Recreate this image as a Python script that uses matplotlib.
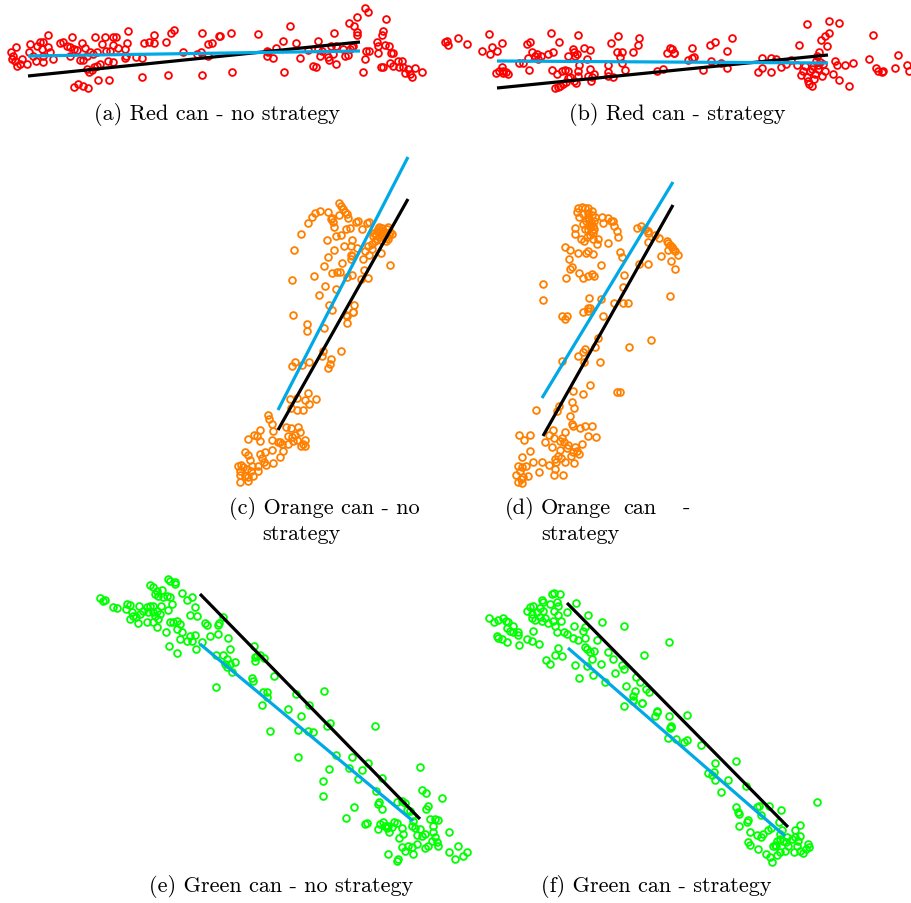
import numpy as np
import matplotlib
matplotlib.use("Agg")
import matplotlib.pyplot as plt

W, H = 912, 904

# ---- tracked positions (x, y), screen coordinates, y grows downward ----
red_nostrat = [
    (11,53),(13,57),(12,60),(15,62),(17,67),(20,65),(16,48),(22,60),(27,65),(30,45),(29,53),(33,57),
    (36,62),(37,47),(40,43),(43,43),(43,63),(42,50),(48,36),(48,48),(50,53),(53,60),(43,57),(60,44),
    (63,43),(67,47),(70,57),(72,38),(70,48),(74,50),(77,51),(82,44),(85,49),(80,61),(83,61),(87,57),
    (90,53),(93,55),(97,53),(95,38),(102,45),(105,38),(106,52),(110,52),(113,38),(116,38),(113,46),
    (118,49),(125,50),(128,32),(127,44),(126,57),(125,59),(87,70),(89,73),(92,71),(94,68),(97,67),
    (100,65),(108,62),(113,63),(74,88),(78,85),(83,87),(88,89),(98,81),(109,81),(136,58),(142,59),
    (142,78),(144,44),(149,43),(154,36),(154,44),(166,43),(171,34),(174,31),(168,76),(183,53),(197,55),
    (201,53),(202,34),(202,76),(208,57),(208,45),(212,44),(219,37),(220,37),(231,34),(258,35),(232,73),
    (267,52),(268,53),(267,57),(273,59),(276,49),(283,42),(284,73),(290,27),(296,44),(300,59),(308,51),
    (313,67),(316,68),(318,42),(318,50),(320,57),(322,52),(328,58),(329,61),(331,47),(333,55),(336,47),
    (334,34),(336,65),(343,50),(345,57),(348,56),(350,50),(352,48),(353,47),(349,24),(354,27),(357,18),
    (357,33),(357,36),(365,9),(368,13),(363,73),(365,60),(366,52),(369,52),(377,43),(378,47),(378,54),
    (382,36),(383,32),(386,20),(385,46),(389,47),(391,54),(393,54),(390,64),(393,67),(398,62),(399,68),
    (402,62),(403,68),(405,74),(408,70),(410,75),(412,78),(415,69),(422,73),(381,68),(383,68),
]
red_strat = [
    (445,43),(448,46),(447,42),(458,39),(467,45),(489,35),(482,52),(490,55),(492,48),(497,52),(502,44),
    (496,74),(499,72),(502,68),(503,72),(506,73),(508,75),(503,74),(519,64),(523,64),(527,45),(530,43),
    (528,59),(529,71),(532,53),(535,57),(537,55),(538,60),(541,57),(548,55),(551,34),(552,71),(553,53),
    (559,43),(555,89),(558,88),(560,87),(563,85),(566,83),(568,79),(570,78),(557,75),(562,72),(565,71),
    (568,72),(568,57),(573,50),(574,53),(575,57),(577,55),(578,36),(579,66),(578,72),(578,77),(574,82),
    (576,84),(584,49),(590,51),(587,60),(590,70),(588,77),(591,82),(594,75),(592,78),(608,66),(608,73),
    (608,77),(613,78),(611,44),(618,37),(617,53),(622,53),(620,58),(622,64),(625,71),(633,53),(638,46),
    (639,39),(657,72),(663,70),(667,54),(670,49),(674,54),(672,50),(674,54),(688,61),(692,59),(694,58),
    (692,49),(703,71),(710,46),(715,43),(711,62),(721,64),(727,52),(727,69),(732,39),(758,73),(762,69),
    (762,59),(771,73),(771,59),(776,60),(781,68),(786,65),(791,61),(797,66),(799,46),(801,76),(803,72),
    (805,67),(807,78),(808,82),(809,85),(812,87),(810,72),(813,67),(815,75),(817,57),(818,70),(819,53),
    (820,63),(821,41),(822,77),(823,65),(825,72),(825,37),(827,47),(829,34),(829,22),(807,25),(839,24),
    (833,75),(835,62),(837,66),(839,81),(845,66),(849,87),(853,64),(869,60),(873,36),(876,69),(878,72),
    (882,73),(883,72),(895,69),(898,56),(907,66),(909,72),(812,70),(816,62),(814,80),(818,66),
]
orange_nostrat = [
    (339,204),(341,207),(343,210),(345,213),(347,215),(348,219),(315,214),(320,212),(312,218),(308,224),
    (328,213),(331,220),(333,223),(332,219),(334,228),(339,216),(356,223),(358,222),(362,230),(367,224),
    (369,223),(346,230),(350,229),(336,237),(341,236),(301,235),(327,241),(352,241),(344,247),(351,247),
    (357,249),(334,251),(294,251),(328,258),(324,267),(342,264),(351,256),(351,260),(352,257),(363,260),
    (365,252),(369,256),(372,250),(377,232),(378,230),(380,233),(382,237),(383,232),(387,230),(388,228),
    (390,233),(388,240),(392,235),(373,237),(375,242),(368,247),(372,245),(381,254),(390,266),(332,274),
    (337,273),(340,273),(347,278),(352,276),(364,271),(361,280),(368,279),(314,277),(292,281),(325,287),
    (336,290),(319,296),(329,306),(332,311),(293,316),(354,306),(353,313),(346,316),(376,236),(379,238),
    (381,241),(384,236),(386,234),(379,228),(385,239),(377,240),(374,234),(382,229),(389,236),(386,242),
    (307,325),(307,332),(324,329),(347,317),(353,313),(347,324),(323,352),(322,357),(341,352),(331,360),
    (330,365),(328,369),(295,363),(292,367),(302,366),(309,363),(290,400),(297,399),(305,401),(308,394),
    (309,405),(316,400),(291,409),(297,411),(303,411),(268,416),(269,420),(272,425),(273,432),(260,431),
    (254,436),(257,437),(248,440),(260,442),(272,441),(286,428),(291,429),(298,428),(288,437),(292,438),
    (295,436),(300,433),(278,443),(282,445),(280,443),(288,445),(293,442),(297,441),(305,441),(303,445),
    (305,447),(301,447),(283,452),(272,451),(280,458),(260,455),(265,453),(262,459),(264,463),(266,466),
    (258,467),(273,464),(245,453),(248,456),(250,461),(238,467),(241,466),(243,468),(247,470),(252,467),
    (240,472),(251,472),(258,472),(240,476),(245,477),(248,478),(253,477),(248,482),(240,483),
]
orange_strat = [
    (578,209),(582,208),(585,209),(588,209),(592,212),(577,213),(579,218),(583,215),(588,214),(592,216),
    (595,218),(586,222),(588,218),(591,223),(593,227),(590,228),(592,232),(593,234),(588,231),(583,225),
    (585,230),(602,218),(603,224),(608,219),(611,222),(613,222),(614,227),(617,232),(618,238),(575,229),
    (575,235),(581,240),(584,242),(587,238),(593,240),(597,245),(598,240),(608,244),(565,248),(570,251),
    (578,254),(586,254),(588,252),(593,255),(620,253),(622,258),(569,260),(570,270),(572,268),(579,274),
    (583,279),(588,277),(592,275),(594,277),(601,266),(566,279),(543,285),(543,301),(589,299),(601,300),
    (614,304),(623,304),(628,304),(624,276),(623,288),(588,309),(590,309),(583,313),(588,312),(562,317),
    (567,317),(603,317),(637,229),(641,227),(645,230),(648,232),(648,234),(648,243),(655,236),(659,239),
    (648,265),(639,265),(661,257),(667,242),(668,244),(670,246),(672,248),(673,250),(668,251),(675,252),
    (678,256),(671,262),(675,270),(670,297),(589,220),(591,226),(594,230),(590,236),(594,222),
    (565,320),(598,339),(595,348),(585,350),(583,353),(578,357),(584,363),(600,363),(629,348),(651,341),
    (562,362),(590,386),(573,392),(583,395),(617,393),(620,393),(559,407),(557,412),(536,411),(572,403),
    (574,409),(570,417),(572,425),(573,427),(580,429),(585,427),(592,427),(553,431),(565,433),(549,436),
    (554,439),(560,442),(562,439),(564,443),(545,443),(552,448),(560,451),(567,449),(568,446),(575,448),
    (577,452),(582,445),(588,437),(596,438),(573,453),(579,455),(571,457),(558,457),(555,460),(561,459),
    (565,463),(556,463),(549,466),(542,463),(533,463),(530,452),(519,436),(530,436),(524,441),(522,458),
    (518,467),(522,468),(526,467),(520,472),(516,476),(523,478),(528,477),(539,473),(555,470),(554,476),
    (563,476),(574,464),(518,483),(522,484),(521,480),
]
green_nostrat = [
    (100,599),(103,602),(105,601),(113,608),(117,609),(126,610),(127,605),(130,606),(132,613),(130,620),
    (133,617),(136,618),(139,607),(140,615),(138,624),(143,612),(147,608),(148,613),(150,607),(153,607),
    (153,613),(155,617),(157,612),(158,620),(160,615),(147,623),(153,623),(157,628),(150,586),(153,588),
    (157,592),(155,595),(158,597),(162,591),(163,598),(167,597),(170,598),(168,580),(170,582),(175,583),
    (175,585),(161,607),(172,605),(168,611),(170,623),(173,623),(177,622),(180,625),(177,630),(182,633),
    (182,594),(187,601),(192,598),(195,608),(190,616),(197,617),(166,633),(180,640),(187,642),(190,637),
    (195,636),(192,642),(169,647),(177,654),(196,650),(202,643),(205,624),(207,626),(210,637),(218,626),
    (219,624),(218,635),(223,618),(228,639),(230,650),(216,656),(223,656),(227,660),(225,665),(227,668),
    (230,665),(232,673),(235,663),(216,688),(254,647),(255,658),(257,657),(255,662),(260,656),(264,659),
    (252,679),(274,677),(263,693),(267,693),(267,698),(262,706),(288,710),(253,682),(270,732),(296,695),
    (309,706),(301,717),(298,731),(308,732),(313,733),(324,692),(330,724),(327,727),(298,758),(329,770),
    (323,782),(323,797),(336,756),(352,758),(349,769),(362,771),(358,780),(368,764),(375,727),(382,779),
    (376,792),(378,805),(379,803),(382,810),(354,808),(346,819),(365,825),(367,824),(378,830),(380,825),
    (383,823),(385,827),(387,829),(388,827),(389,833),(392,828),(394,823),(397,824),(402,829),(399,839),
    (403,835),(397,803),(402,802),(405,804),(407,811),(410,812),(412,817),(413,822),(412,827),(415,829),
    (417,836),(420,830),(422,837),(425,835),(420,768),(422,791),(426,794),(426,810),(428,807),(430,820),
    (433,827),(435,820),(438,821),(433,833),(435,838),(432,842),(437,843),(438,847),(428,847),(425,849),
    (417,845),(412,848),(408,847),(405,852),(402,848),(413,855),(449,833),(442,799),(449,853),(455,860),
    (458,847),(463,857),(467,853),(388,855),(397,862),(398,860),
]
green_strat = [
    (489,619),(494,623),(498,621),(503,619),(506,622),(508,623),(507,629),(510,632),(513,627),(513,633),
    (518,633),(518,636),(497,637),(498,639),(502,640),(507,643),(519,646),(527,640),(532,642),(533,632),
    (539,645),(527,612),(530,608),(533,607),(532,615),(532,619),(535,621),(537,613),(540,609),(542,601),
    (543,603),(540,618),(542,622),(543,612),(545,619),(548,624),(550,605),(552,595),(554,594),(560,595),
    (557,603),(558,607),(554,612),(553,622),(555,627),(558,616),(561,622),(557,633),(564,633),(567,635),
    (567,613),(576,604),(574,627),(573,639),(578,641),(583,632),(585,628),(585,639),(588,616),(597,641),
    (602,623),(558,649),(555,656),(562,657),(546,661),(550,665),(585,648),(587,650),(590,653),(594,652),
    (592,660),(575,666),(587,667),(579,679),(593,676),(601,665),(608,653),(613,660),(605,683),(615,674),
    (622,666),(624,670),(624,627),(626,687),(636,678),(640,683),(644,656),(635,692),(633,697),(633,701),
    (624,707),(642,704),(646,690),(649,693),(657,713),(655,717),(669,643),(669,717),(671,727),
    (633,702),(642,704),(657,712),(670,729),(671,728),(668,739),(676,740),(684,743),(687,741),(687,716),
    (701,746),(715,764),(714,773),(708,774),(712,776),(715,781),(728,781),(736,762),(746,787),(721,793),
    (736,808),(738,813),(739,815),(739,827),(747,823),(748,821),(757,808),(759,807),(761,816),(769,807),
    (781,811),(817,803),(800,826),(795,831),(779,823),(782,831),(780,835),(771,829),(768,831),(763,835),
    (761,838),(757,836),(750,833),(748,843),(750,846),(758,850),(766,855),(770,858),(772,863),(777,856),
    (780,853),(773,847),(775,846),(783,842),(786,843),(788,847),(785,852),(792,840),(795,838),(798,842),
    (800,837),(797,847),(794,853),(800,852),(803,854),(806,850),(808,845),(809,848),(787,838),(780,840),
    (777,842),(776,847),
]

# fitted trend lines: (x_start, x_end), (y_start, y_end)
fit_black = {
    "a": ((28, 360), (77, 43)),
    "b": ((497, 828), (89, 56)),
    "c": ((278, 408), (431, 200)),
    "d": ((543, 673), (437, 206)),
    "e": ((200, 420), (595, 820)),
    "f": ((567, 788), (604, 828)),
}
fit_cyan = {
    "a": ((28, 360), (57, 52)),
    "b": ((497, 828), (62, 64)),
    "c": ((278, 408), (411, 158)),
    "d": ((542, 673), (399, 183)),
    "e": ((200, 413), (645, 822)),
    "f": ((568, 785), (649, 837)),
}

panels = {
    "a": (red_nostrat, "#ff0000", (0, 0, 432, 100)),
    "b": (red_strat, "#ff0000", (436, 0, 912, 100)),
    "c": (orange_nostrat, "#ff8000", (225, 145, 420, 495)),
    "d": (orange_strat, "#ff8000", (500, 170, 695, 495)),
    "e": (green_nostrat, "#00ff00", (88, 570, 478, 870)),
    "f": (green_strat, "#00ff00", (478, 580, 830, 870)),
}

fig = plt.figure(figsize=(W / 100, H / 100), dpi=100)
fig.patch.set_facecolor("white")

for key, (pts, col, (x0, y0, x1, y1)) in panels.items():
    ax = fig.add_axes([x0 / W, 1 - y1 / H, (x1 - x0) / W, (y1 - y0) / H])
    ax.set_xlim(x0, x1)
    ax.set_ylim(y1, y0)
    ax.axis("off")
    p = np.array(pts, dtype=float)
    ax.plot(p[:, 0], p[:, 1], linestyle="none", marker="o", ms=4.9,
            mfc="none", mec=col, mew=1.3, zorder=2)
    bx, by = fit_black[key]
    cx, cy = fit_cyan[key]
    ax.plot(bx, by, color="black", lw=2.3, solid_capstyle="butt", zorder=3)
    ax.plot(cx, cy, color="#00a9e6", lw=2.3, solid_capstyle="butt", zorder=3)

# captions
cap_kw = dict(family="cmr10", fontsize=16, color="black", va="center")

def fx(px):
    return px / W

def fy(py):
    return 1 - py / H

fig.text(fx(217), fy(114), "(a) Red can - no strategy", ha="center", **cap_kw)
fig.text(fx(677), fy(114), "(b) Red can - strategy", ha="center", **cap_kw)
fig.text(fx(229), fy(508), "(c) Orange can - no", ha="left", **cap_kw)
fig.text(fx(262), fy(534), "strategy", ha="left", **cap_kw)
for word, px in [("(d)", 505), ("Orange", 541), ("can", 623), ("-", 683)]:
    fig.text(fx(px), fy(508), word, ha="left", **cap_kw)
fig.text(fx(541), fy(534), "strategy", ha="left", **cap_kw)
fig.text(fx(281), fy(887), "(e) Green can - no strategy", ha="center", **cap_kw)
fig.text(fx(656), fy(887), "(f) Green can - strategy", ha="center", **cap_kw)

fig.savefig("out.png", dpi=100, facecolor="white")
